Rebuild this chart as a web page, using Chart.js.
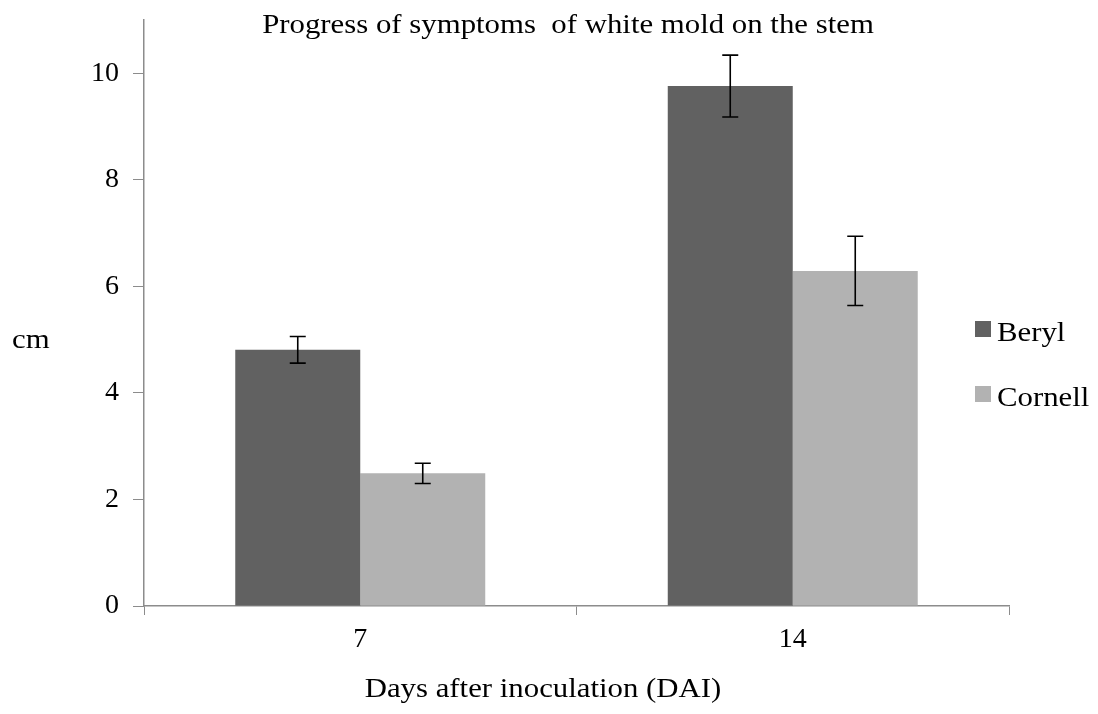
<!DOCTYPE html>
<html>
<head>
<meta charset="utf-8">
<script src="https://cdn.jsdelivr.net/npm/chart.js@4.4.1/dist/chart.umd.min.js"></script>
<style>
  html,body{margin:0;padding:0;background:#fff;}
  #wrap{width:1098px;height:714px;position:relative;}
</style>
</head>
<body>
<div id="wrap"><canvas id="chart"></canvas></div>
<script>
const days = ["7", "14"];
const beryl = [4.81, 9.76];
const berylErr = [0.25, 0.58];
const cornell = [2.49, 6.29];
const cornellErr = [0.19, 0.65];
const yTicks = [0, 2, 4, 6, 8, 10];

const titleText = "Progress of symptoms  of white mold on the stem";
const xTitle = "Days after inoculation (DAI)";
const yTitle = "cm";

const FONT = "'Liberation Serif', 'Times New Roman', serif";

// the source text is a bit wider than plain Times, stretch it a little
function wideText(ctx, txt, x, y, align){
  const sx = 1.1;
  ctx.save();
  ctx.translate(x, y);
  ctx.scale(sx, 1);
  ctx.textAlign = align;
  ctx.fillText(txt, 0, 0);
  ctx.restore();
}

// error bars + text that sits where Chart.js wouldn't put it
const extras = {
  id: "extras",
  afterDatasetsDraw(chart){
    const ctx = chart.ctx;
    const y = chart.scales.y;
    ctx.save();
    ctx.strokeStyle = "#000";
    ctx.lineWidth = 1.6;
    chart.data.datasets.forEach((ds, i)=>{
      const meta = chart.getDatasetMeta(i);
      meta.data.forEach((bar, j)=>{
        const v = ds.data[j], e = ds.errors[j];
        const top = y.getPixelForValue(v+e), bot = y.getPixelForValue(v-e);
        ctx.beginPath();
        ctx.moveTo(bar.x, top); ctx.lineTo(bar.x, bot);
        ctx.moveTo(bar.x-8, top); ctx.lineTo(bar.x+8, top);
        ctx.moveTo(bar.x-8, bot); ctx.lineTo(bar.x+8, bot);
        ctx.stroke();
      });
    });
    ctx.restore();
  },
  afterDraw(chart){
    const ctx = chart.ctx;
    ctx.save();
    ctx.fillStyle = "#000";
    ctx.font = "28px " + FONT;
    ctx.textBaseline = "alphabetic";
    wideText(ctx, titleText, 568, 33, "center");
    wideText(ctx, xTitle, 543, 697, "center");
    wideText(ctx, yTitle, 12, 348, "left");
    // legend
    const rows = [341, 406];
    chart.data.datasets.forEach((ds, i)=>{
      ctx.fillStyle = ds.backgroundColor;
      ctx.fillRect(975, rows[i]-20, 16, 16);
      ctx.fillStyle = "#000";
      wideText(ctx, ds.label, 997, rows[i], "left");
    });
    ctx.restore();
  }
};

new Chart(document.getElementById("chart"), {
  type: "bar",
  data: {
    labels: days,
    datasets: [
      { label: "Beryl", data: beryl, errors: berylErr, backgroundColor: "#616161" },
      { label: "Cornell", data: cornell, errors: cornellErr, backgroundColor: "#b2b2b2" }
    ]
  },
  options: {
    responsive: true,
    maintainAspectRatio: false,
    animation: false,
    layout: { padding: { top: 20, right: 89, left: 0, bottom: 0 } },
    datasets: { bar: { barPercentage: 1, categoryPercentage: 0.578 } },
    plugins: {
      legend: { display: false },
      title: { display: false },
      tooltip: { enabled: false }
    },
    scales: {
      x: {
        grid: { display: true, drawOnChartArea: false, offset: true, color: "#8c8c8c", tickLength: 9, tickColor: "#8c8c8c" },
        border: { color: "#8c8c8c", width: 1.5 },
        ticks: { color: "#000", font: { family: FONT, size: 28 }, padding: 8 },
        afterFit(scale){ scale.height = 108; }
      },
      y: {
        min: 0, max: 11,
        grid: { display: true, drawOnChartArea: false, color: "#8c8c8c", tickLength: 11, tickColor: "#8c8c8c" },
        border: { color: "#8c8c8c", width: 1.5 },
        ticks: { color: "#000", font: { family: FONT, size: 28 }, padding: 14, stepSize: 2 },
        afterBuildTicks(scale){ scale.ticks = yTicks.map(v=>({ value: v })); },
        afterFit(scale){ scale.width = 144; scale.paddingTop = 0; scale.paddingBottom = 0; }
      }
    }
  },
  plugins: [extras]
});
</script>
</body>
</html>
